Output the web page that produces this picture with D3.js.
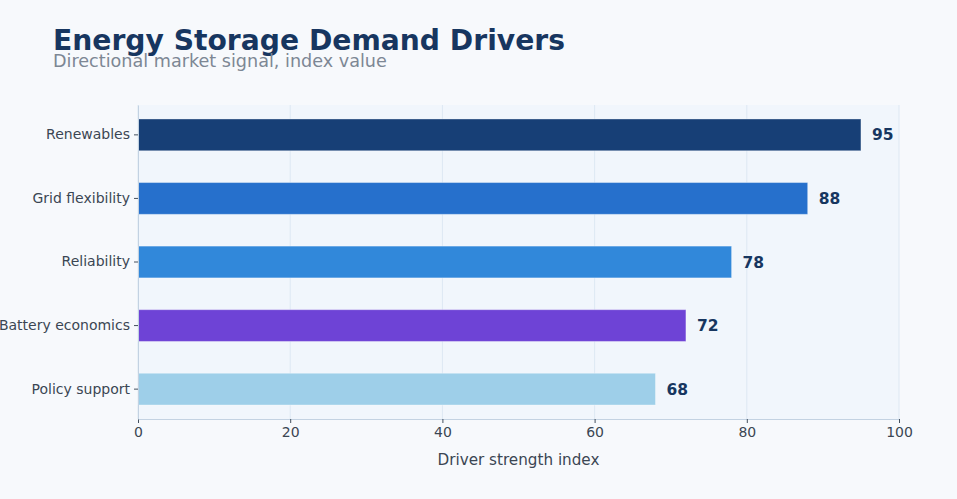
<!DOCTYPE html>
<html><head><meta charset="utf-8">
<script src="https://cdn.jsdelivr.net/npm/d3@7"></script>
<style>
html,body{margin:0;padding:0;background:#f7f9fc;}
svg{display:block;font-family:"DejaVu Sans",sans-serif;}
</style></head><body>
<svg id="chart" width="957" height="499"></svg>
<script>
const categories = ["Renewables","Grid flexibility","Reliability","Battery economics","Policy support"];
const values = [95, 88, 78, 72, 68];
const barColors = ["#173f76","#2670cc","#3188da","#6e43d6","#9ecfe9"];
const xTicks = [0,20,40,60,80,100];

const W=957,H=499;
const m={left:138,right:58,top:105,bottom:80};
const svg=d3.select("#chart");
svg.append("rect").attr("width",W).attr("height",H).attr("fill","#f7f9fc");

const x=d3.scaleLinear().domain([0,100]).range([m.left,W-m.right]);
const y=d3.scaleBand().domain(categories).range([m.top,H-m.bottom]).paddingInner(0.5).paddingOuter(0.22);

svg.append("rect").attr("x",m.left).attr("y",m.top).attr("width",x(100)-m.left).attr("height",H-m.bottom-m.top).attr("fill","#f1f6fc");

// grid
svg.append("g").selectAll("line").data(xTicks).join("line")
  .attr("x1",d=>x(d)).attr("x2",d=>x(d)).attr("y1",m.top).attr("y2",H-m.bottom)
  .attr("stroke","#dde8f3").attr("stroke-width",1);

// bars
svg.append("g").selectAll("rect").data(values).join("rect")
  .attr("x",x(0)).attr("y",(d,i)=>y(categories[i]))
  .attr("width",d=>x(d)-x(0)).attr("height",y.bandwidth())
  .attr("fill",(d,i)=>barColors[i])
  .attr("stroke","rgba(255,255,255,0.35)").attr("stroke-width",1);

// value labels
svg.append("g").selectAll("text").data(values).join("text")
  .attr("x",d=>x(d)+11).attr("y",(d,i)=>y(categories[i])+y.bandwidth()/2)
  .attr("dy","0.36em").attr("font-size",15.5).attr("font-weight","bold")
  .attr("fill","#173660").text(d=>d);

// axes
const xAxis=svg.append("g").attr("transform",`translate(0,${H-m.bottom})`)
  .call(d3.axisBottom(x).tickValues(xTicks).tickSize(4).tickPadding(4).tickSizeOuter(0));
xAxis.select(".domain").attr("stroke","#c3d2e2");
xAxis.selectAll(".tick line").attr("stroke","#44505e");
xAxis.selectAll("text").attr("font-size",14).attr("fill","#3b4653").attr("font-family","DejaVu Sans");

const yAxis=svg.append("g").attr("transform",`translate(${m.left},0)`)
  .call(d3.axisLeft(y).tickSize(4).tickPadding(4).tickSizeOuter(0));
yAxis.select(".domain").attr("stroke","#c3d2e2");
yAxis.selectAll(".tick line").attr("stroke","#44505e");
yAxis.selectAll("text").attr("font-size",14).attr("fill","#3b4653").attr("font-family","DejaVu Sans");

svg.append("text").attr("x",(x(0)+x(100))/2).attr("y",465).attr("text-anchor","middle")
  .attr("font-size",15.2).attr("fill","#3b4653").text("Driver strength index");

svg.append("text").attr("x",53).attr("y",50).attr("font-size",28.2).attr("font-weight","bold")
  .attr("fill","#173660").text("Energy Storage Demand Drivers");
svg.append("text").attr("x",53).attr("y",67).attr("font-size",17.6).attr("fill","#7d8794")
  .text("Directional market signal, index value");
</script></body></html>
